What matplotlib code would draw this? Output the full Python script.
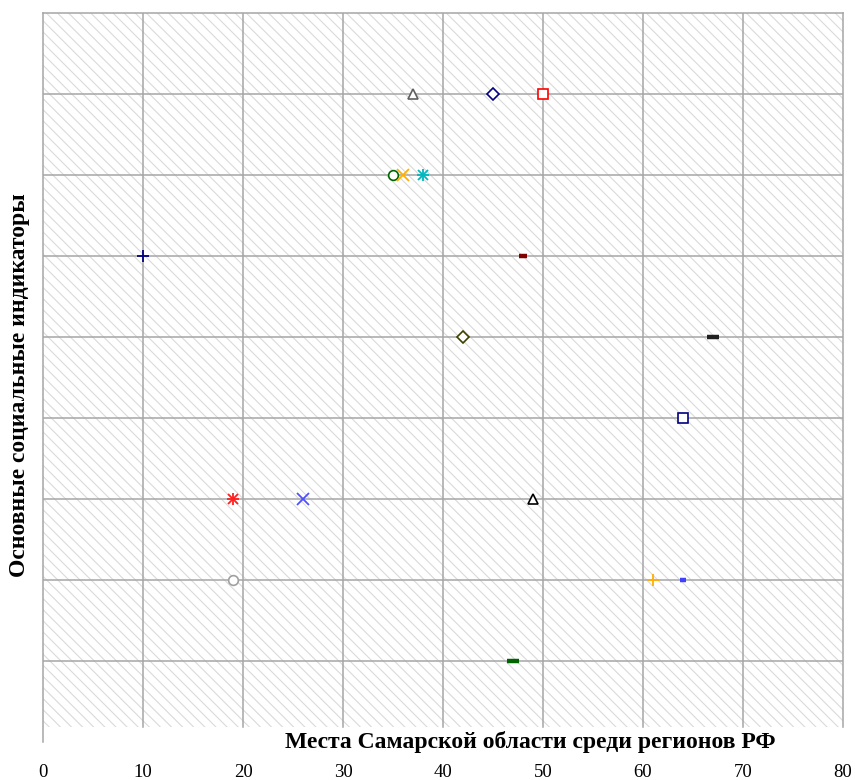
import numpy as np
import matplotlib.pyplot as plt
from matplotlib.patches import Rectangle

# places of the region (x) and indicator row (y)
ranks = [37, 45, 50, 35, 36, 38, 10, 48, 42, 67, 64, 19, 26, 49, 19, 61, 64, 47]
rows = [8, 8, 8, 7, 7, 7, 6, 6, 5, 5, 4, 3, 3, 3, 2, 2, 2, 1]
x_ticks = [0, 10, 20, 30, 40, 50, 60, 70, 80]

# marker style per point
markers = ['^', 'D', 's', 'o', 'x', '*', '+', '_', 'D', '_', 's', '*', 'x', '^', 'o', '+', '_', '_']
colors = ['#606060', '#000080', '#ff0000', '#006400', '#ffb000', '#00b8c0', '#000080', '#800000',
          '#404000', '#202020', '#000080', '#ff2020', '#5050ff', '#000000', '#a0a0a0', '#ffb000',
          '#4040ff', '#006400']
dash_len = {7: 5.5, 9: 8, 16: 4.5, 17: 8.5}

plt.rcParams['font.family'] = ['Liberation Serif', 'DejaVu Serif']
plt.rcParams['hatch.linewidth'] = 0.8

fig = plt.figure(figsize=(8.55, 7.8), dpi=100)
ax = fig.add_axes([43 / 855, (780 - 742) / 780, 800 / 855, 729 / 780])

ax.set_xlim(0, 80)
ax.set_ylim(0, 9)

# hatched plot area
ax.add_patch(Rectangle((0, 0.185), 80, 9 - 0.185, facecolor='white', edgecolor='#dadada',
                       linewidth=0, hatch='\\\\\\', zorder=0))

for gx in x_ticks[1:-1]:
    ax.plot([gx, gx], [0.185, 9], color='#a6a6a6', lw=1.1, zorder=1)
for gy in range(1, 9):
    ax.axhline(gy, color='#a6a6a6', lw=1.1, zorder=1)

for i, (xv, yv) in enumerate(zip(ranks, rows)):
    m = markers[i]
    c = colors[i]
    if m == '_':
        ax.plot(xv, yv, marker='_', color=c, ms=dash_len[i], mew=3.2, zorder=3)
    elif m in ('x', '+', '*'):
        if m == '*':
            ax.plot(xv, yv, marker='x', color=c, ms=7, mew=1.3, zorder=3)
            ax.plot(xv, yv, marker='+', color=c, ms=8.5, mew=1.3, zorder=3)
        else:
            ax.plot(xv, yv, marker=m, color=c, ms=8.5, mew=1.3, zorder=3)
    else:
        size = {'^': 7, 'D': 6.2, 's': 6.5, 'o': 7}[m]
        ax.plot(xv, yv, marker=m, color=c, mfc='white', mec=c, ms=size, mew=1.2, zorder=3)

ax.set_xticks(x_ticks)
ax.set_yticks([])
ax.tick_params(axis='x', length=0, pad=16, labelsize=13.5)
for s in ['top', 'left', 'right']:
    ax.spines[s].set_color('#a6a6a6')
    ax.spines[s].set_linewidth(1.1)
ax.spines['bottom'].set_visible(False)
ax.spines['right'].set_bounds(0.185, 9)

fig.text(530 / 855, 1 - 742 / 780, 'Места Самарской области среди регионов РФ',
         ha='center', va='center', fontsize=17, fontweight='bold')
fig.text(20 / 855, 1 - 385 / 780, 'Основные социальные индикаторы',
         ha='center', va='center', rotation=90, fontsize=17, fontweight='bold')

fig.savefig('out.png', dpi=100)
